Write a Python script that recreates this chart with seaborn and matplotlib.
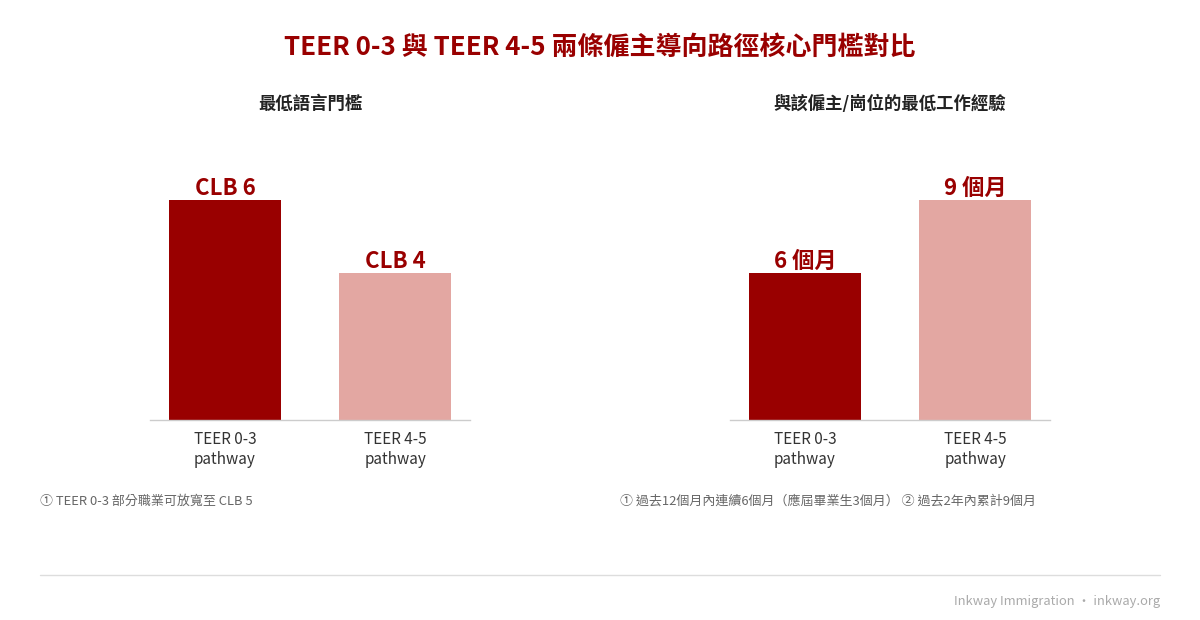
import matplotlib
matplotlib.use("Agg")
import matplotlib.pyplot as plt
import seaborn as sns
import pandas as pd

# datos
pathways = ["TEER 0-3\npathway", "TEER 4-5\npathway"]
clb_levels = [6, 4]
clb_labels = ["CLB 6", "CLB 4"]
work_months = [6, 9]
work_labels = ["6 個月", "9 個月"]

title = "TEER 0-3 與 TEER 4-5 兩條僱主導向路徑核心門檻對比"
left_title = "最低語言門檻"
right_title = "與該僱主/崗位的最低工作經驗"
left_note = "① TEER 0-3 部分職業可放寬至 CLB 5"
right_note = "① 過去12個月內連續6個月（應屆畢業生3個月） ② 過去2年內累計9個月"
footer = "Inkway Immigration · inkway.org"

bar_colors = ["#990000", "#e3a7a2"]
red = "#990000"

sns.set_theme(style="white")
plt.rcParams["font.family"] = ["Noto Sans CJK TC", "DejaVu Sans"]

fig = plt.figure(figsize=(12, 6.2), dpi=100)
ax1 = fig.add_axes([0.125, 0.3226, 0.2667, 0.4516])
ax2 = fig.add_axes([0.6083, 0.3226, 0.2667, 0.4516])


def draw_panel(ax, values, labels, ymax):
    df = pd.DataFrame({"pathway": pathways, "value": values})
    sns.barplot(data=df, x="pathway", y="value", hue="pathway",
                palette=bar_colors, width=0.66, legend=False, ax=ax,
                saturation=1, linewidth=0)
    for i, (v, lab) in enumerate(zip(values, labels)):
        ax.text(i, v, lab, ha="center", va="bottom", fontsize=16,
                fontweight="bold", color=red)
    ax.set_xlim(-0.44, 1.44)
    ax.set_ylim(0, ymax)
    ax.set_xlabel("")
    ax.set_ylabel("")
    ax.set_yticks([])
    for s in ["top", "right", "left"]:
        ax.spines[s].set_visible(False)
    ax.spines["bottom"].set_color("#cccccc")
    ax.spines["bottom"].set_linewidth(1)
    ax.tick_params(axis="x", length=0, pad=8, labelsize=11, labelcolor="#333333")
    ax.set_facecolor("white")


draw_panel(ax1, clb_levels, clb_labels, 6 * 280 / 220)
draw_panel(ax2, work_months, work_labels, 9 * 280 / 220)

fig.text(0.5, 1 - 47 / 620, title, ha="center", va="center", fontsize=18.7,
         fontweight="bold", color=red)
fig.text(310 / 1200, 1 - 104 / 620, left_title, ha="center", va="center",
         fontsize=12.5, fontweight="bold", color="#222222")
fig.text(890 / 1200, 1 - 104 / 620, right_title, ha="center", va="center",
         fontsize=12.5, fontweight="bold", color="#222222")

fig.text(40 / 1200, 1 - 501 / 620, left_note, ha="left", va="center",
         fontsize=9.35, color="#666666")
fig.text(620 / 1200, 1 - 501 / 620, right_note, ha="left", va="center",
         fontsize=9.35, color="#666666")

fig.add_artist(plt.Line2D([40 / 1200, 1160 / 1200], [1 - 575 / 620, 1 - 575 / 620],
                          color="#dddddd", linewidth=1))
fig.text(1160 / 1200, 1 - 601 / 620, footer, ha="right", va="center",
         fontsize=9.3, color="#aaaaaa")

fig.savefig("out.png", dpi=100, facecolor="white")
